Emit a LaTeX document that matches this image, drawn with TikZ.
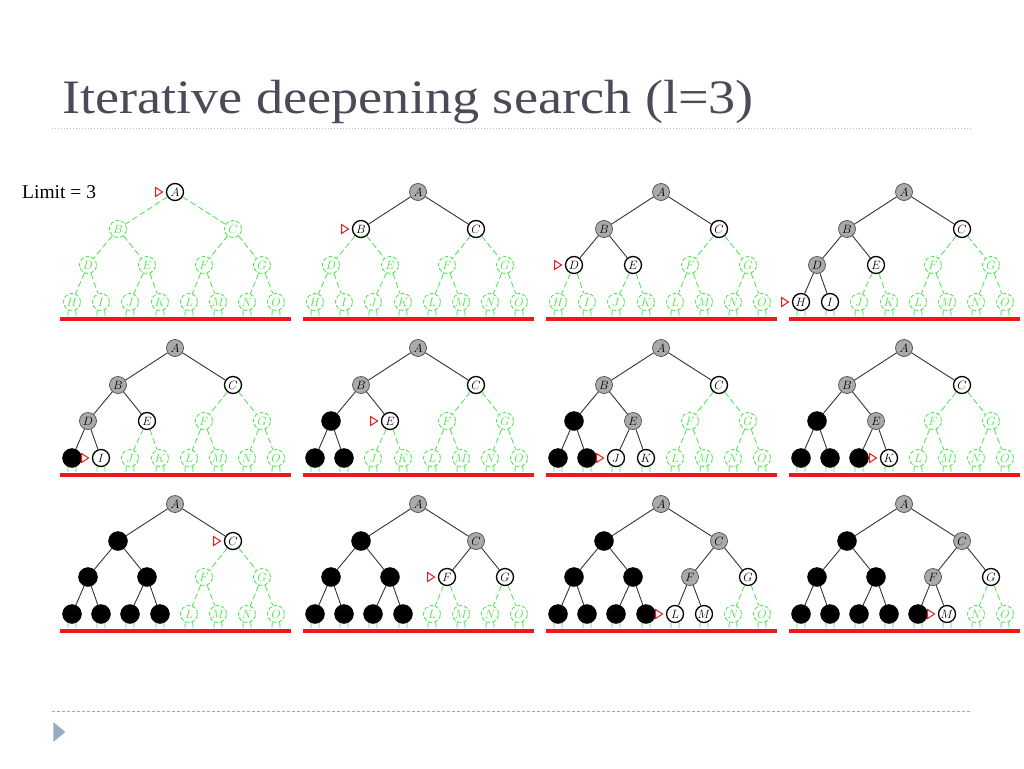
\documentclass[tikz,border=0pt]{standalone}
\usepackage{fontspec}
\setmainfont{Liberation Serif}
\usepackage{xcolor}
\usepackage{graphicx}
\usepackage{tikz}
\usetikzlibrary{calc}
\usetikzlibrary{arrows.meta}
\usetikzlibrary{shapes.geometric}
\tikzset{>=latex}

\definecolor{idsgreen}{RGB}{70,230,70}
\definecolor{idsgray}{RGB}{170,170,170}
\definecolor{idsred}{RGB}{235,25,25}
\definecolor{titlegray}{RGB}{75,75,88}
\definecolor{rulegray}{RGB}{190,190,190}
\definecolor{ruleblue}{RGB}{150,172,196}

\tikzstyle{tnode} = [circle, minimum size=17pt, inner sep=0pt, font=\fontsize{13}{13}\selectfont]
\tikzstyle{new} = [tnode, draw=idsgreen, text=idsgreen, dash pattern=on 4pt off 2pt, line width=0.8pt]
\tikzstyle{open} = [tnode, draw=black, fill=white, line width=1.3pt]
\tikzstyle{done} = [tnode, draw=black!70, fill=idsgray, line width=0.7pt]
\tikzstyle{dead} = [tnode, draw=black, fill=black, text=black, minimum size=19pt]
\tikzstyle{newlink} = [draw=idsgreen, dash pattern=on 6pt off 3pt, line width=0.8pt]
\tikzstyle{openlink} = [draw=black!80, line width=0.9pt]
\tikzstyle{donelink} = [openlink]
\tikzstyle{deadlink} = [openlink]
\tikzstyle{marker} = [isosceles triangle, draw=idsred, fill=white, line width=1pt, minimum height=7pt, minimum width=9pt, inner sep=0pt, isosceles triangle stretches]
\tikzstyle{limitbar} = [draw=idsred, line width=4pt]

\newcommand{\nodeletter}[1]{\ifcase#1\or A\or B\or C\or D\or E\or F\or G\or H\or I\or J\or K\or L\or M\or N\or O\fi}

\begin{document}
\begin{tikzpicture}[x=1pt, y=-1pt]
\useasboundingbox (0,0) rectangle (1024,768);
\node [anchor=base west, inner sep=0, text=titlegray, font=\fontsize{48}{52}\selectfont] (T) at (62,113) {\scalebox{1.13}[1]{Iterative deepening search (l=3)}};
\coordinate (R1) at (52,128);
\coordinate (R2) at (972,128);
\draw [rulegray, dotted, line width=1pt] (R1) -- (R2);
\coordinate (S1) at (52,711);
\coordinate (S2) at (972,711);
\draw [ruleblue, dash pattern=on 3pt off 2pt, line width=0.8pt] (S1) -- (S2);
\node [isosceles triangle, fill=ruleblue, inner sep=0, minimum height=12pt, minimum width=20pt, isosceles triangle stretches] (blt) at (58,732) {};
\node [anchor=west, inner sep=0, font=\fontsize{19.5}{20}\selectfont] (lim) at (22,192) {Limit = 3};

%% one tree per step: states of A..O, then the node being looked at
\foreach \st/\mk [count=\p] in {
  {open,new,new,new,new,new,new,new,new,new,new,new,new,new,new}/1,
  {done,open,open,new,new,new,new,new,new,new,new,new,new,new,new}/2,
  {done,done,open,open,open,new,new,new,new,new,new,new,new,new,new}/4,
  {done,done,open,done,open,new,new,open,open,new,new,new,new,new,new}/8,
  {done,done,open,done,open,new,new,dead,open,new,new,new,new,new,new}/9,
  {done,done,open,dead,open,new,new,dead,dead,new,new,new,new,new,new}/5,
  {done,done,open,dead,done,new,new,dead,dead,open,open,new,new,new,new}/10,
  {done,done,open,dead,done,new,new,dead,dead,dead,open,new,new,new,new}/11,
  {done,dead,open,dead,dead,new,new,dead,dead,dead,dead,new,new,new,new}/3,
  {done,dead,done,dead,dead,open,open,dead,dead,dead,dead,new,new,new,new}/6,
  {done,dead,done,dead,dead,done,open,dead,dead,dead,dead,open,open,new,new}/12,
  {done,dead,done,dead,dead,done,open,dead,dead,dead,dead,dead,open,new,new}/13} {
  \pgfmathsetmacro\ax{175+243*mod(\p-1,4)}
  \pgfmathsetmacro\ay{192+156*floor((\p-1)/4)}
  \foreach \s [count=\i] in \st {
    \pgfmathsetmacro\dx{{0,-57,58,-87,-28,29,87,-103,-74,-45,-15,14,43,72,101}[\i-1]}
    \pgfmathsetmacro\dy{{0,37,37,73,73,73,73,110,110,110,110,110,110,110,110}[\i-1]}
    \node [\s] (p\p n\i) at (\ax+\dx,\ay+\dy) {$\nodeletter{\i}$};
    \ifnum\i>1
      \pgfmathtruncatemacro\up{\i/2}
      \draw [\s link] (p\p n\up) -- (p\p n\i);
    \fi
    \ifnum\i>7
      \coordinate (p\p sl\i) at (\ax+\dx-4,\ay+\dy+14);
      \coordinate (p\p sr\i) at (\ax+\dx+4,\ay+\dy+14);
      \draw [newlink] (p\p n\i.-115) -- (p\p sl\i);
      \draw [newlink] (p\p n\i.-65) -- (p\p sr\i);
    \fi
  }
  \node [marker, anchor=apex] (p\p m) at ($(p\p n\mk.west)+(-2,0)$) {};
  \coordinate (p\p l) at (\ax-115,\ay+127);
  \coordinate (p\p r) at (\ax+116,\ay+127);
  \draw [limitbar] (p\p l) -- (p\p r);
}
\end{tikzpicture}
\end{document}
